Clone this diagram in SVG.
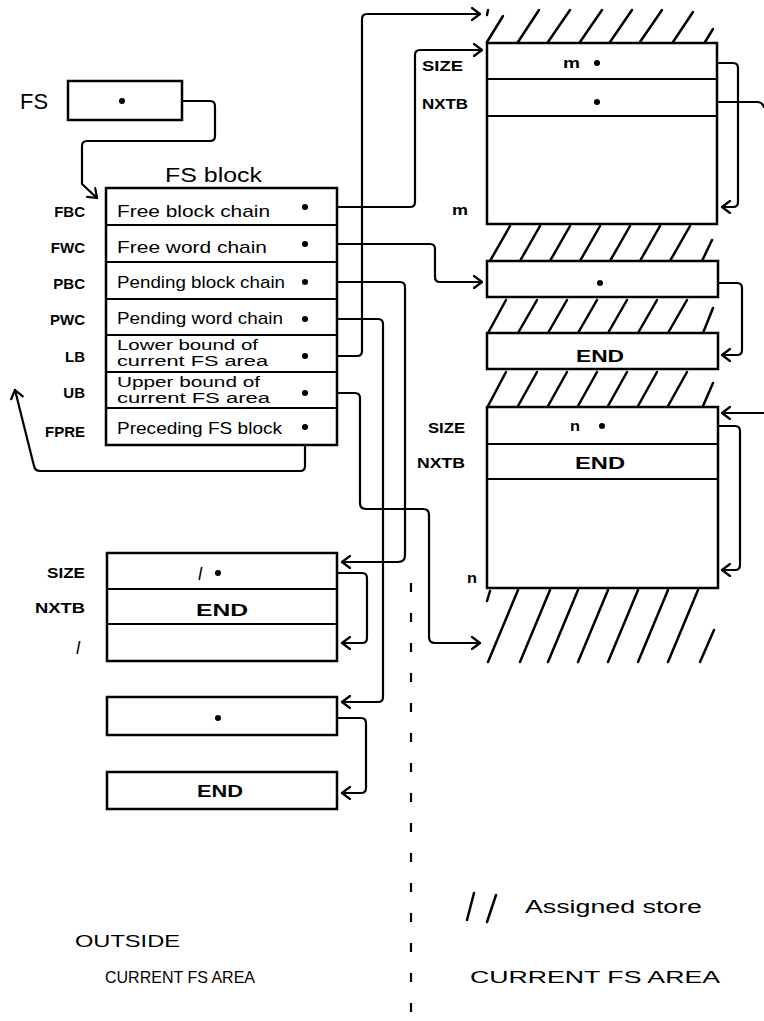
<svg xmlns="http://www.w3.org/2000/svg" width="764" height="1021" viewBox="0 0 764 1021">
<style>
.ln{fill:none;stroke:#000;stroke-width:2.2;stroke-linecap:round;stroke-linejoin:round}
.bx{fill:#fff;stroke:#000;stroke-width:2.5}
.dv{stroke:#000;stroke-width:2.2}
.h{stroke:#000;stroke-width:2.5;stroke-linecap:round}
.t{font-family:"Liberation Sans",Arial,sans-serif;fill:#000}
.lb{font-family:"Liberation Sans",Arial,sans-serif;font-weight:bold;font-size:15px;fill:#000}
.rw{font-family:"Liberation Sans",Arial,sans-serif;font-size:17px;fill:#000}
.sm{font-family:"Liberation Sans",Arial,sans-serif;font-size:14px;fill:#000}
.en{font-family:"Liberation Sans",Arial,sans-serif;font-weight:bold;font-size:16px;fill:#000}
.dot{fill:#000}
</style>
<defs>
<marker id="ah" viewBox="-10 -7 12 14" refX="0" refY="0" markerWidth="12" markerHeight="14" orient="auto" markerUnits="userSpaceOnUse">
<path d="M-8,-6 L0,0 L-8,6" fill="none" stroke="#000" stroke-width="2.2" stroke-linecap="round" stroke-linejoin="round"/>
</marker>
</defs>
<rect width="764" height="1021" fill="#fff"/>

<!-- hatching (assigned store) -->
<g id="hatching">
<line class="h" x1="487" y1="15" x2="488" y2="10"/>
<line class="h" x1="487" y1="42" x2="503" y2="16"/>
<line class="h" x1="518" y1="42" x2="539" y2="10"/>
<line class="h" x1="548" y1="42" x2="570" y2="10"/>
<line class="h" x1="580" y1="42" x2="602" y2="10"/>
<line class="h" x1="610" y1="42" x2="632" y2="10"/>
<line class="h" x1="640" y1="42" x2="662" y2="10"/>
<line class="h" x1="673" y1="42" x2="693" y2="12"/>
<line class="h" x1="705" y1="42" x2="713" y2="29"/>

<line class="h" x1="490" y1="261" x2="510" y2="226"/>
<line class="h" x1="520" y1="261" x2="540" y2="226"/>
<line class="h" x1="550" y1="261" x2="570" y2="226"/>
<line class="h" x1="580" y1="261" x2="600" y2="226"/>
<line class="h" x1="610" y1="261" x2="630" y2="226"/>
<line class="h" x1="640" y1="261" x2="660" y2="226"/>
<line class="h" x1="670" y1="261" x2="690" y2="226"/>
<line class="h" x1="702" y1="261" x2="712" y2="240"/>

<line class="h" x1="488" y1="333" x2="506" y2="300"/>
<line class="h" x1="518" y1="333" x2="537" y2="300"/>
<line class="h" x1="548" y1="333" x2="567" y2="300"/>
<line class="h" x1="578" y1="333" x2="597" y2="300"/>
<line class="h" x1="608" y1="333" x2="627" y2="300"/>
<line class="h" x1="638" y1="333" x2="657" y2="300"/>
<line class="h" x1="668" y1="333" x2="687" y2="300"/>
<line class="h" x1="703" y1="333" x2="713" y2="308"/>

<line class="h" x1="488" y1="406" x2="506" y2="372"/>
<line class="h" x1="518" y1="406" x2="537" y2="372"/>
<line class="h" x1="548" y1="406" x2="567" y2="372"/>
<line class="h" x1="578" y1="406" x2="597" y2="372"/>
<line class="h" x1="608" y1="406" x2="627" y2="372"/>
<line class="h" x1="638" y1="406" x2="657" y2="372"/>
<line class="h" x1="668" y1="406" x2="687" y2="372"/>
<line class="h" x1="703" y1="406" x2="713" y2="383"/>

<line class="h" x1="487" y1="601" x2="490" y2="591"/>
<line class="h" x1="488" y1="662" x2="518" y2="590"/>
<line class="h" x1="520" y1="662" x2="550" y2="590"/>
<line class="h" x1="548" y1="662" x2="578" y2="590"/>
<line class="h" x1="578" y1="662" x2="608" y2="590"/>
<line class="h" x1="608" y1="662" x2="638" y2="590"/>
<line class="h" x1="638" y1="662" x2="668" y2="590"/>
<line class="h" x1="668" y1="662" x2="698" y2="590"/>
<line class="h" x1="700" y1="662" x2="714" y2="630"/>
</g>

<!-- connectors -->
<g id="connectors">
<path class="ln" d="M122,101 H210 Q215,101 215,106 V136 Q215,141 210,141 H87 Q82,141 82,146 V184 L97,198" marker-end="url(#ah)"/>
<path class="ln" d="M305,207 H410 Q415,207 415,202 V55 Q415,50 420,50 H482" marker-end="url(#ah)"/>
<path class="ln" d="M305,356 H357 Q362,356 362,351 V19 Q362,14 367,14 H480" marker-end="url(#ah)"/>
<path class="ln" d="M305,244 H430 Q435,244 435,249 V277 Q435,282 440,282 H482" marker-end="url(#ah)"/>
<path class="ln" d="M305,282 H400 Q405,282 405,287 V555 Q405,562 398,562 H342" marker-end="url(#ah)"/>
<path class="ln" d="M305,319 H378 Q383,319 383,324 V697 Q383,702 378,702 H342" marker-end="url(#ah)"/>
<path class="ln" d="M305,393 H355 Q360,393 360,398 V503 Q360,509 366,509 H423 Q429,509 429,515 V637 Q429,643 435,643 H480" marker-end="url(#ah)"/>
<path class="ln" d="M305,427 V466 Q305,471 300,471 H40 Q35,471 34,466 L15,390" marker-end="url(#ah)"/>
<path class="ln" d="M597,63 H733 Q738,63 738,68 V202 Q738,207 733,207 H722" marker-end="url(#ah)"/>
<path class="ln" d="M597,102 H757 Q762,102 764,107"/>
<path class="ln" d="M600,283 H737 Q742,283 742,288 V350 Q742,355 737,355 H722" marker-end="url(#ah)"/>
<path class="ln" d="M602,426 H735 Q740,426 740,431 V565 Q740,570 735,570 H722" marker-end="url(#ah)"/>
<path class="ln" d="M764,413 H722" marker-end="url(#ah)"/>
<path class="ln" d="M218,573 H362 Q367,573 367,578 V638 Q367,643 362,643 H342" marker-end="url(#ah)"/>
<path class="ln" d="M218,718 H361 Q366,718 366,723 V788 Q366,793 361,793 H342" marker-end="url(#ah)"/>
<line x1="411" y1="583" x2="411" y2="1018" stroke="#000" stroke-width="2.2" stroke-dasharray="9 21"/>
</g>

<!-- FS pointer -->
<g id="fs">
<text class="t" x="20" y="109" font-size="22" textLength="28" lengthAdjust="spacingAndGlyphs">FS</text>
<rect class="bx" x="68" y="81" width="114" height="39" fill="none"/>
<circle class="dot" cx="122" cy="101" r="3"/>
</g>

<!-- FS block -->
<g id="fs-block">
<text class="t" x="165" y="182" font-size="21" textLength="97" lengthAdjust="spacingAndGlyphs">FS block</text>
<rect class="bx" x="106" y="188" width="231" height="257" fill="none"/>
<line class="dv" x1="106" y1="225" x2="337" y2="225"/>
<line class="dv" x1="106" y1="262" x2="337" y2="262"/>
<line class="dv" x1="106" y1="299" x2="337" y2="299"/>
<line class="dv" x1="106" y1="335" x2="337" y2="335"/>
<line class="dv" x1="106" y1="372" x2="337" y2="372"/>
<line class="dv" x1="106" y1="408" x2="337" y2="408"/>
<g text-anchor="end">
<text class="lb" x="85" y="217">FBC</text>
<text class="lb" x="85" y="253">FWC</text>
<text class="lb" x="85" y="289">PBC</text>
<text class="lb" x="85" y="325">PWC</text>
<text class="lb" x="85" y="362">LB</text>
<text class="lb" x="85" y="398">UB</text>
<text class="lb" x="85" y="437">FPRE</text>
</g>
<text class="rw" x="117" y="217" textLength="153" lengthAdjust="spacingAndGlyphs">Free block chain</text>
<text class="rw" x="117" y="253" textLength="150" lengthAdjust="spacingAndGlyphs">Free word chain</text>
<text class="rw" x="117" y="288" textLength="168" lengthAdjust="spacingAndGlyphs">Pending block chain</text>
<text class="rw" x="117" y="324" textLength="166" lengthAdjust="spacingAndGlyphs">Pending word chain</text>
<text class="sm" x="117" y="350" textLength="141" lengthAdjust="spacingAndGlyphs">Lower bound of</text>
<text class="sm" x="117" y="366" textLength="151" lengthAdjust="spacingAndGlyphs">current FS area</text>
<text class="sm" x="117" y="387" textLength="143" lengthAdjust="spacingAndGlyphs">Upper bound of</text>
<text class="sm" x="117" y="403" textLength="153" lengthAdjust="spacingAndGlyphs">current FS area</text>
<text class="rw" x="117" y="434" textLength="165" lengthAdjust="spacingAndGlyphs">Preceding FS block</text>
<circle class="dot" cx="305" cy="207" r="3"/>
<circle class="dot" cx="305" cy="244" r="3"/>
<circle class="dot" cx="305" cy="282" r="3"/>
<circle class="dot" cx="305" cy="319" r="3"/>
<circle class="dot" cx="305" cy="356" r="3"/>
<circle class="dot" cx="305" cy="393" r="3"/>
<circle class="dot" cx="305" cy="427" r="3"/>
</g>

<!-- m block -->
<g id="m-block">
<rect class="bx" x="487" y="43" width="230" height="181"/>
<line class="dv" x1="487" y1="79" x2="717" y2="79"/>
<line class="dv" x1="487" y1="116" x2="717" y2="116"/>
<text class="lb" x="422" y="71" textLength="41" lengthAdjust="spacingAndGlyphs">SIZE</text>
<text class="lb" x="422" y="109" textLength="46" lengthAdjust="spacingAndGlyphs">NXTB</text>
<text class="lb" x="452" y="215" textLength="16" lengthAdjust="spacingAndGlyphs">m</text>
<text class="lb" x="563" y="68" textLength="17" lengthAdjust="spacingAndGlyphs">m</text>
<circle class="dot" cx="597" cy="63" r="3"/>
<circle class="dot" cx="597" cy="102" r="3"/>
</g>

<!-- free word block -->
<g id="word-block-1">
<rect class="bx" x="487" y="261" width="231" height="36"/>
<circle class="dot" cx="600" cy="283" r="3"/>
</g>

<g id="word-block-2">
<rect class="bx" x="487" y="333" width="231" height="36"/>
<text class="en" x="600" y="362" text-anchor="middle" textLength="48" lengthAdjust="spacingAndGlyphs">END</text>
</g>

<!-- n block -->
<g id="n-block">
<rect class="bx" x="487" y="407" width="231" height="181"/>
<line class="dv" x1="487" y1="444" x2="718" y2="444"/>
<line class="dv" x1="487" y1="479" x2="718" y2="479"/>
<text class="lb" x="428" y="433" textLength="37" lengthAdjust="spacingAndGlyphs">SIZE</text>
<text class="lb" x="417" y="468" textLength="48" lengthAdjust="spacingAndGlyphs">NXTB</text>
<text class="lb" x="467" y="583" textLength="10" lengthAdjust="spacingAndGlyphs">n</text>
<text class="lb" x="570" y="431" textLength="10" lengthAdjust="spacingAndGlyphs">n</text>
<text class="en" x="600" y="469" text-anchor="middle" textLength="50" lengthAdjust="spacingAndGlyphs">END</text>
<circle class="dot" cx="602" cy="426" r="3"/>
</g>

<!-- l block -->
<g id="l-block">
<rect class="bx" x="107" y="553" width="230" height="108"/>
<line class="dv" x1="107" y1="589" x2="337" y2="589"/>
<line class="dv" x1="107" y1="624" x2="337" y2="624"/>
<text class="lb" x="47" y="578" textLength="38" lengthAdjust="spacingAndGlyphs">SIZE</text>
<text class="lb" x="35" y="613" textLength="50" lengthAdjust="spacingAndGlyphs">NXTB</text>
<text class="t" x="76" y="654" font-size="18" font-style="italic">l</text>
<text class="t" x="198" y="580" font-size="18" font-style="italic">l</text>
<text class="en" x="222" y="616" text-anchor="middle" textLength="52" lengthAdjust="spacingAndGlyphs">END</text>
<circle class="dot" cx="218" cy="573" r="3"/>
</g>

<g id="pending-word-1">
<rect class="bx" x="107" y="697" width="230" height="38"/>
<circle class="dot" cx="218" cy="718" r="3"/>
</g>

<g id="pending-word-2">
<rect class="bx" x="107" y="772" width="230" height="37"/>
<text class="en" x="220" y="797" text-anchor="middle" font-size="14" textLength="46" lengthAdjust="spacingAndGlyphs">END</text>
</g>

<!-- legend / captions -->
<g id="legend">
<line class="h" x1="467" y1="920" x2="474" y2="893"/>
<line class="h" x1="487" y1="922" x2="496" y2="895"/>
<text class="t" x="525" y="913" font-size="19" textLength="177" lengthAdjust="spacingAndGlyphs">Assigned store</text>
<text class="t" x="75" y="947" font-size="17" textLength="105" lengthAdjust="spacingAndGlyphs">OUTSIDE</text>
<text class="t" x="105" y="983" font-size="17" textLength="150" lengthAdjust="spacingAndGlyphs">CURRENT  FS  AREA</text>
<text class="t" x="470" y="983" font-size="17" textLength="250" lengthAdjust="spacingAndGlyphs">CURRENT   FS   AREA</text>
</g>
</svg>
